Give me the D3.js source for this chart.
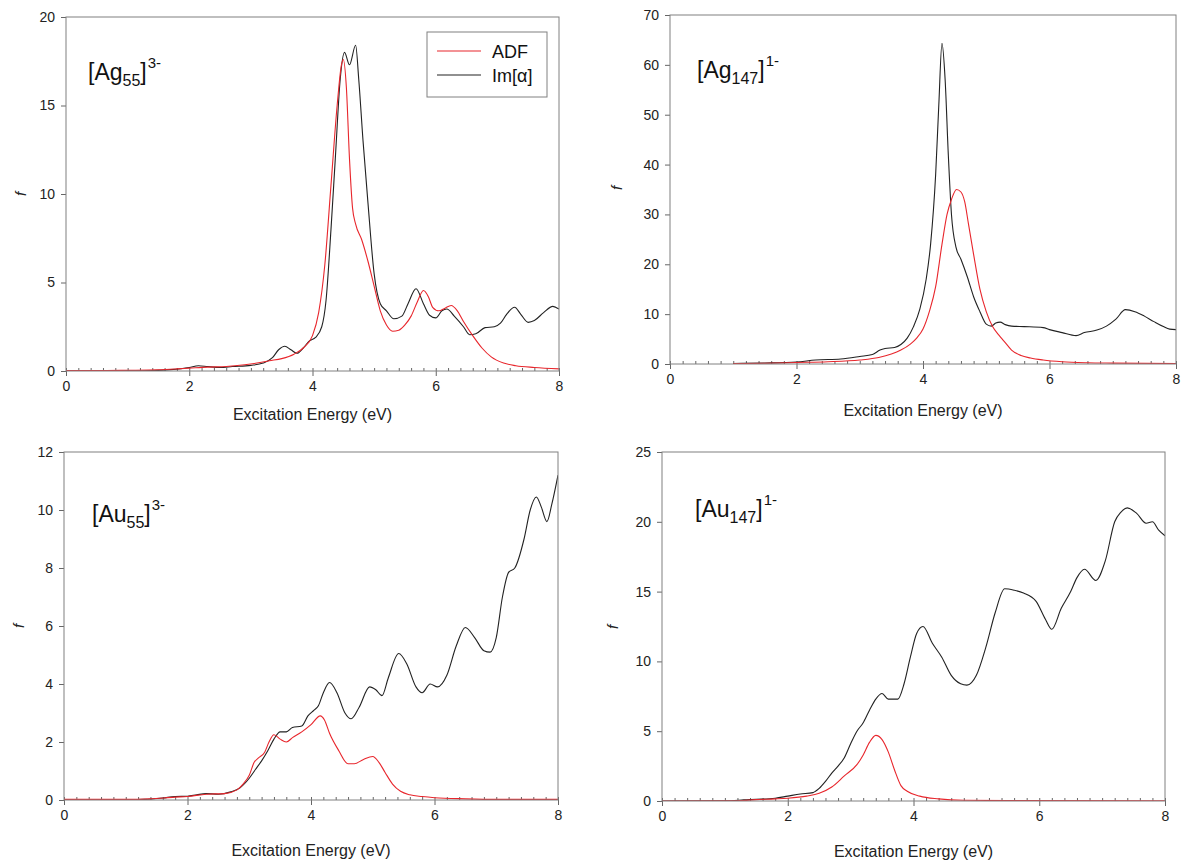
<!DOCTYPE html>
<html>
<head>
<meta charset="utf-8">
<script src="https://cdn.jsdelivr.net/npm/d3@7"></script>
<style>
body{margin:0;background:#fff;}
svg{display:block;font-family:"Liberation Sans",Arial,sans-serif;}
.tick text{fill:#222;font-size:14px;font-family:"Liberation Sans",Arial,sans-serif;}
.tick line{stroke:#666;}
</style>
</head>
<body>
<svg id="chart" width="1186" height="867"></svg>
<script>
// values, [energy (eV), f]
var ag55Adf = [[0,0.02],[0.5,0.02],[1.0,0.04],[1.5,0.07],[1.8,0.12],[2.0,0.16],[2.3,0.22],[2.6,0.25],[2.9,0.35],[3.1,0.45],[3.3,0.58],[3.5,0.7],[3.7,0.95],[3.85,1.3],[4.0,2.0],[4.1,3.3],[4.2,6.0],[4.3,10.5],[4.4,15.0],[4.47,17.3],[4.5,17.6],[4.55,16.0],[4.6,12.0],[4.65,9.2],[4.7,8.3],[4.8,7.4],[4.9,6.2],[5.0,4.8],[5.1,3.4],[5.2,2.6],[5.3,2.25],[5.4,2.3],[5.5,2.6],[5.6,3.1],[5.7,3.9],[5.8,4.55],[5.88,4.2],[5.95,3.6],[6.05,3.4],[6.15,3.55],[6.25,3.7],[6.35,3.4],[6.45,2.8],[6.6,2.0],[6.75,1.3],[6.9,0.8],[7.1,0.45],[7.3,0.3],[7.6,0.2],[8.0,0.12]];
var ag55Im = [[0,0],[1.0,0.01],[1.4,0.03],[1.7,0.08],[2.0,0.2],[2.15,0.3],[2.3,0.25],[2.5,0.2],[2.7,0.25],[3.0,0.32],[3.2,0.45],[3.35,0.75],[3.45,1.2],[3.55,1.4],[3.65,1.2],[3.75,1.0],[3.85,1.3],[3.95,1.7],[4.05,1.9],[4.15,2.5],[4.22,4.0],[4.3,8.0],[4.37,12.0],[4.45,16.5],[4.52,18.0],[4.6,17.3],[4.7,18.4],[4.75,16.5],[4.82,13.0],[4.9,9.5],[5.0,5.5],[5.1,3.8],[5.2,3.4],[5.32,2.95],[5.45,3.1],[5.55,3.8],[5.68,4.65],[5.8,3.8],[5.9,3.15],[6.0,3.0],[6.1,3.4],[6.18,3.5],[6.3,3.1],[6.45,2.5],[6.55,2.05],[6.65,2.1],[6.8,2.45],[6.95,2.5],[7.05,2.7],[7.15,3.2],[7.28,3.6],[7.38,3.2],[7.5,2.75],[7.6,2.85],[7.75,3.3],[7.9,3.65],[8.0,3.5]];

var ag147Adf = [[1.0,0.1],[1.5,0.15],[2.0,0.3],[2.5,0.45],[3.0,0.8],[3.3,1.3],[3.5,2.0],[3.65,2.8],[3.8,4.0],[3.9,5.2],[4.0,7.0],[4.1,10.5],[4.2,15.5],[4.3,24.0],[4.38,30.0],[4.45,33.0],[4.53,35.0],[4.6,34.5],[4.66,32.5],[4.72,28.0],[4.8,22.0],[4.9,15.0],[5.0,10.5],[5.1,7.5],[5.2,5.8],[5.28,4.6],[5.4,2.8],[5.55,1.7],[5.7,1.2],[5.9,0.8],[6.2,0.45],[6.6,0.25],[7.0,0.18],[8.0,0.1]];
var ag147Im = [[1.0,0.1],[1.5,0.2],[2.0,0.4],[2.3,0.8],[2.7,1.0],[3.0,1.5],[3.2,1.9],[3.32,2.8],[3.4,3.1],[3.55,3.3],[3.65,3.9],[3.75,5.2],[3.85,7.5],[3.95,11.0],[4.05,17.0],[4.12,24.0],[4.2,38.0],[4.25,52.0],[4.3,64.3],[4.35,57.0],[4.4,42.0],[4.45,30.0],[4.52,23.5],[4.6,21.0],[4.7,17.5],[4.8,13.5],[4.9,10.5],[5.0,8.0],[5.08,7.6],[5.15,8.2],[5.22,8.4],[5.3,7.9],[5.4,7.6],[5.6,7.5],[5.9,7.3],[6.0,6.9],[6.2,6.3],[6.42,5.7],[6.55,6.3],[6.75,6.8],[6.9,7.6],[7.05,9.0],[7.2,10.9],[7.35,10.5],[7.5,9.6],[7.65,8.5],[7.8,7.5],[7.9,7.0],[8.0,6.9]];

var au55Adf = [[0,0.02],[1.0,0.02],[1.4,0.04],[1.8,0.1],[2.0,0.12],[2.3,0.2],[2.6,0.22],[2.8,0.35],[2.9,0.55],[3.0,0.85],[3.08,1.3],[3.15,1.45],[3.25,1.65],[3.32,2.0],[3.4,2.25],[3.5,2.1],[3.6,2.0],[3.7,2.15],[3.85,2.35],[4.0,2.6],[4.15,2.9],[4.22,2.75],[4.3,2.3],[4.45,1.7],[4.6,1.25],[4.7,1.25],[4.85,1.4],[5.0,1.5],[5.1,1.3],[5.2,0.95],[5.32,0.55],[5.45,0.3],[5.6,0.18],[5.8,0.12],[6.0,0.08],[6.5,0.04],[7.0,0.02],[8.0,0.02]];
var au55Im = [[0,0],[1.0,0.01],[1.3,0.02],[1.6,0.07],[1.8,0.12],[2.0,0.13],[2.15,0.18],[2.3,0.22],[2.5,0.2],[2.7,0.28],[2.85,0.42],[3.0,0.75],[3.1,1.05],[3.2,1.35],[3.3,1.7],[3.4,2.1],[3.5,2.35],[3.6,2.35],[3.7,2.5],[3.85,2.55],[3.95,2.9],[4.05,3.1],[4.12,3.25],[4.2,3.7],[4.3,4.05],[4.42,3.7],[4.55,3.0],[4.65,2.8],[4.78,3.2],[4.95,3.9],[5.05,3.8],[5.15,3.6],[5.25,4.2],[5.42,5.05],[5.55,4.7],[5.7,3.9],[5.8,3.7],[5.93,4.0],[6.05,3.9],[6.2,4.3],[6.35,5.3],[6.5,5.95],[6.65,5.6],[6.8,5.15],[6.9,5.1],[7.0,5.6],[7.1,7.0],[7.2,7.85],[7.3,8.0],[7.45,9.0],[7.55,10.0],[7.65,10.45],[7.73,10.1],[7.82,9.6],[7.9,10.2],[8.0,11.2]];

var au147Adf = [[0,0],[1.2,0.02],[1.5,0.1],[1.8,0.15],[2.0,0.2],[2.3,0.35],[2.5,0.55],[2.7,1.0],[2.9,1.8],[3.1,2.6],[3.2,3.3],[3.3,4.2],[3.4,4.7],[3.5,4.4],[3.6,3.5],[3.7,2.2],[3.8,1.1],[3.9,0.7],[4.1,0.35],[4.4,0.15],[4.8,0.05],[5.5,0.03],[8.0,0.02]];
var au147Im = [[0,0],[1.1,0.02],[1.3,0.08],[1.5,0.12],[1.8,0.2],[2.0,0.35],[2.2,0.5],[2.4,0.6],[2.5,0.9],[2.6,1.4],[2.7,2.0],[2.8,2.5],[2.9,3.1],[3.0,4.1],[3.1,5.0],[3.2,5.6],[3.3,6.5],[3.4,7.3],[3.5,7.7],[3.6,7.3],[3.75,7.3],[3.85,8.4],[3.95,10.3],[4.05,12.0],[4.15,12.5],[4.3,11.3],[4.45,10.3],[4.6,9.0],[4.75,8.4],[4.85,8.3],[5.0,9.0],[5.15,11.0],[5.3,13.5],[5.45,15.2],[5.6,15.1],[5.75,14.9],[5.95,14.3],[6.1,13.0],[6.2,12.3],[6.35,13.8],[6.5,15.0],[6.6,16.0],[6.72,16.6],[6.9,15.8],[7.05,17.2],[7.2,20.0],[7.3,20.7],[7.4,21.0],[7.55,20.6],[7.7,19.9],[7.8,20.0],[7.9,19.4],[8.0,19.0]];

var xTicks = [0,2,4,6,8];
var ag55Ticks = [0,5,10,15,20];
var ag147Ticks = [0,10,20,30,40,50,60,70];
var au55Ticks = [0,2,4,6,8,10,12];
var au147Ticks = [0,5,10,15,20,25];

var legendNames = ["ADF","Im[\u03b1]"];
var xTitle = "Excitation Energy (eV)";

var red = "#e8262c", black = "#222";

var panels = [
  {id:"p1", left:66, right:559, top:17, bottom:371, yMax:20, yTicks:ag55Ticks, adf:ag55Adf, im:ag55Im,
   label:["[Ag","55","]","3-"], lx:88, ly:80, fx:26, fy:194, ty:420, legend:true},
  {id:"p2", left:670, right:1176, top:15, bottom:364, yMax:70, yTicks:ag147Ticks, adf:ag147Adf, im:ag147Im,
   label:["[Ag","147","]","1-"], lx:697, ly:78, fx:622, fy:188, ty:416},
  {id:"p3", left:64, right:558, top:452, bottom:800, yMax:12, yTicks:au55Ticks, adf:au55Adf, im:au55Im,
   label:["[Au","55","]","3-"], lx:92, ly:522, fx:24, fy:626, ty:856},
  {id:"p4", left:662, right:1165, top:452, bottom:801, yMax:25, yTicks:au147Ticks, adf:au147Adf, im:au147Im,
   label:["[Au","147","]","1-"], lx:695, ly:517, fx:618, fy:627, ty:857}
];

var svg = d3.select("#chart");

panels.forEach(function(p){
  var x = d3.scaleLinear().domain([0,8]).range([p.left,p.right]);
  var y = d3.scaleLinear().domain([0,p.yMax]).range([p.bottom,p.top]);

  svg.append("clipPath").attr("id","clip-"+p.id)
    .append("rect").attr("x",p.left).attr("y",p.top)
    .attr("width",p.right-p.left).attr("height",p.bottom-p.top);

  // minor x ticks, inside
  svg.append("g").attr("transform","translate(0,"+p.bottom+")")
    .call(d3.axisBottom(x).tickValues(d3.range(0,8.01,0.2)).tickSize(-3).tickFormat(""))
    .call(function(g){g.select(".domain").remove();});

  svg.append("g").attr("transform","translate(0,"+p.bottom+")")
    .call(d3.axisBottom(x).tickValues(xTicks).tickSize(5).tickPadding(5).tickFormat(d3.format("d")))
    .call(function(g){g.select(".domain").remove();});

  svg.append("g").attr("transform","translate("+p.left+",0)")
    .call(d3.axisLeft(y).tickValues(p.yTicks).tickSize(5).tickPadding(6).tickFormat(d3.format("d")))
    .call(function(g){g.select(".domain").remove();});

  var line = d3.line().x(function(d){return x(d[0]);}).y(function(d){return y(d[1]);})
    .curve(d3.curveMonotoneX);

  var lines = svg.append("g").attr("clip-path","url(#clip-"+p.id+")");
  lines.append("path").attr("d",line(p.im)).attr("fill","none").attr("stroke",black).attr("stroke-width",1.1);
  lines.append("path").attr("d",line(p.adf)).attr("fill","none").attr("stroke",red).attr("stroke-width",1.1);

  svg.append("rect").attr("x",p.left).attr("y",p.top)
    .attr("width",p.right-p.left).attr("height",p.bottom-p.top)
    .attr("fill","none").attr("stroke","#808080").attr("stroke-width",1);

  // cluster label with sub/superscripts
  var t = svg.append("text").attr("x",p.lx).attr("y",p.ly).attr("fill","#111").style("font-size","23px");
  t.append("tspan").text(p.label[0]);
  t.append("tspan").attr("dy",6).style("font-size","16px").text(p.label[1]);
  t.append("tspan").attr("dy",-6).text(p.label[2]);
  t.append("tspan").attr("dy",-12).attr("dx",1).style("font-size","15px").text(p.label[3]);

  svg.append("text").attr("x",(p.left+p.right)/2).attr("y",p.ty)
    .attr("text-anchor","middle").attr("fill","#222").style("font-size","16px").text(xTitle);

  svg.append("text").attr("transform","translate("+p.fx+","+p.fy+") rotate(-90)")
    .attr("text-anchor","middle").attr("fill","#222").style("font-size","15px").style("font-style","italic").text("f");

  if(p.legend){
    var lg = svg.append("g");
    lg.append("rect").attr("x",427).attr("y",32).attr("width",120).attr("height",65)
      .attr("fill","#fff").attr("stroke","#808080");
    [red,black].forEach(function(c,i){
      lg.append("line").attr("x1",437).attr("x2",481).attr("y1",51+24*i).attr("y2",51+24*i)
        .attr("stroke",c).attr("stroke-width",1.1);
      lg.append("text").attr("x",492).attr("y",58+24*i).attr("fill","#111")
        .style("font-size","18px").text(legendNames[i]);
    });
  }
});
</script>
</body>
</html>
